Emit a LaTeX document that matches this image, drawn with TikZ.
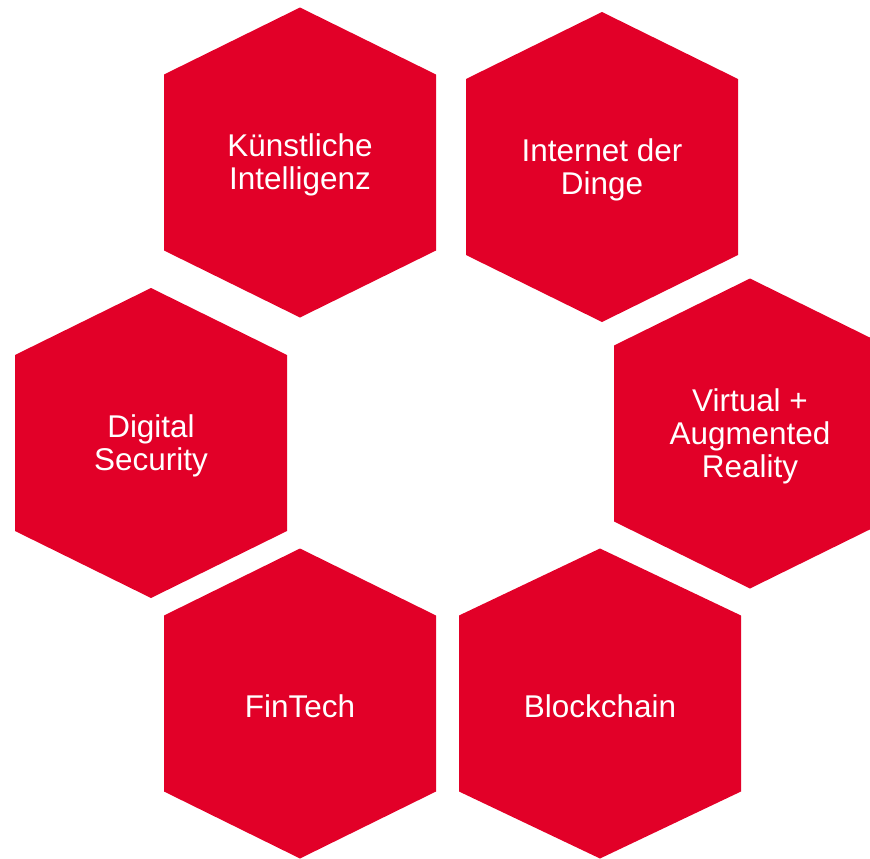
\documentclass[tikz,border=0pt]{standalone}
\usepackage{fontspec}
\setmainfont{Liberation Sans}
\definecolor{hexred}{RGB}{226,0,40}

\tikzset{
  hexlabel/.style={text=white, align=center, inner sep=0pt, yshift=-1.4pt,
    font=\fontsize{17.9}{18.8}\selectfont},
}
% name, centre x, centre y, half width, text
\newcommand{\hexcell}[5]{%
  \fill[hexred] (#2,#3) +(0,-155) -- +(-#4,-88) -- +(-#4,88)
    -- +(0,155) -- +(#4,88) -- +(#4,-88) -- cycle;
  \node[hexlabel] (#1) at (#2,#3) {#5};
}

\begin{document}
\begin{tikzpicture}[x=0.02cm, y=-0.02cm]
  \useasboundingbox (0,0) rectangle (870,859);
  \clip (0,0) rectangle (870,859);
  \hexcell{ki}{300}{162.5}{136}{Künstliche\\Intelligenz}
  \hexcell{iot}{602}{167}{136}{Internet der\\Dinge}
  \hexcell{security}{151}{443}{136}{Digital\\Security}
  \hexcell{vr}{750}{433.5}{136}{Virtual +\\Augmented\\Reality}
  \hexcell{fintech}{300}{703.5}{136}{FinTech}
  \hexcell{blockchain}{600}{703.5}{141}{Blockchain}
\end{tikzpicture}
\end{document}
